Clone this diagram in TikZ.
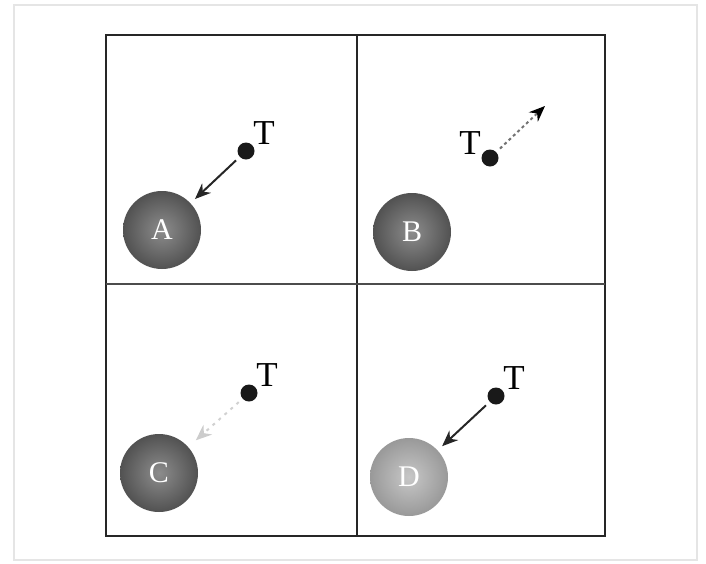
\documentclass[tikz,border=0pt]{standalone}
\usepackage{fontspec}
\setmainfont{Liberation Serif}
\usetikzlibrary{arrows.meta, positioning}

\begin{document}
\begin{tikzpicture}[
        x=1pt,
        y=-1pt,
        frame/.style={line width=2.2pt, draw=black!85},
        sphere/.style={circle, minimum size=78pt, inner sep=0pt, shading=radial,
                       text=white, font=\fontsize{30}{30}\selectfont},
        dkball/.style={sphere, inner color=black!45, outer color=black!68},
        ltball/.style={sphere, inner color=black!22, outer color=black!40},
        dot/.style={circle, fill=black!90, minimum size=17pt, inner sep=0pt},
        tlbl/.style={font=\fontsize{35}{35}\selectfont, inner sep=0pt},
        force/.style={-{Stealth[length=16pt, width=13pt]}, line width=2pt, draw=black!85}
    ]
        \useasboundingbox (0,0) rectangle (706,563);
        % === CADRES ===
        \draw[black!10, line width=2pt] (14,5) rectangle (697,560);
        \draw[frame] (106,35) rectangle (605,536);
        \draw[frame] (357,35) -- (357,536);
        \draw[frame, draw=black!70] (106,284) -- (605,284);

        % === BOULES ===
        \node[dkball] (A) at (162,230) {A};
        \node[dkball] (B) at (412,232) {B};
        \node[dkball] (C) at (159,473) {C};
        \node[ltball] (D) at (409,477) {D};

        % === CHARGES TEST ===
        \node[dot] (tA) at (246,151) {};
        \node[dot] (tB) at (490,158) {};
        \node[dot] (tC) at (249,393) {};
        \node[dot] (tD) at (496,396) {};
        \node[tlbl, above right=0pt and 1pt of tA] (lA) {T};
        \node[tlbl, above left=-3pt and 3pt of tB] (lB) {T};
        \node[tlbl, above right=0pt and 1pt of tC] (lC) {T};
        \node[tlbl, above right=0pt and 1pt of tD] (lD) {T};
        \coordinate (fB) at (545,106);

        % === FORCES ===
        \draw[force, shorten <=5pt, shorten >=6pt] (tA) -- (A);
        \draw[force, dashed, draw=black!55, -{Stealth[length=16pt, width=13pt, black]}, shorten <=5pt] (tB) -- (fB);
        \draw[force, draw=black!18, dash pattern=on 3pt off 5pt,
              -{Stealth[length=16pt, width=13pt, black!20]}, shorten <=5pt, shorten >=10pt] (tC) -- (C);
        \draw[force, shorten <=5pt, shorten >=6pt] (tD) -- (D);
    \end{tikzpicture}
\end{document}
